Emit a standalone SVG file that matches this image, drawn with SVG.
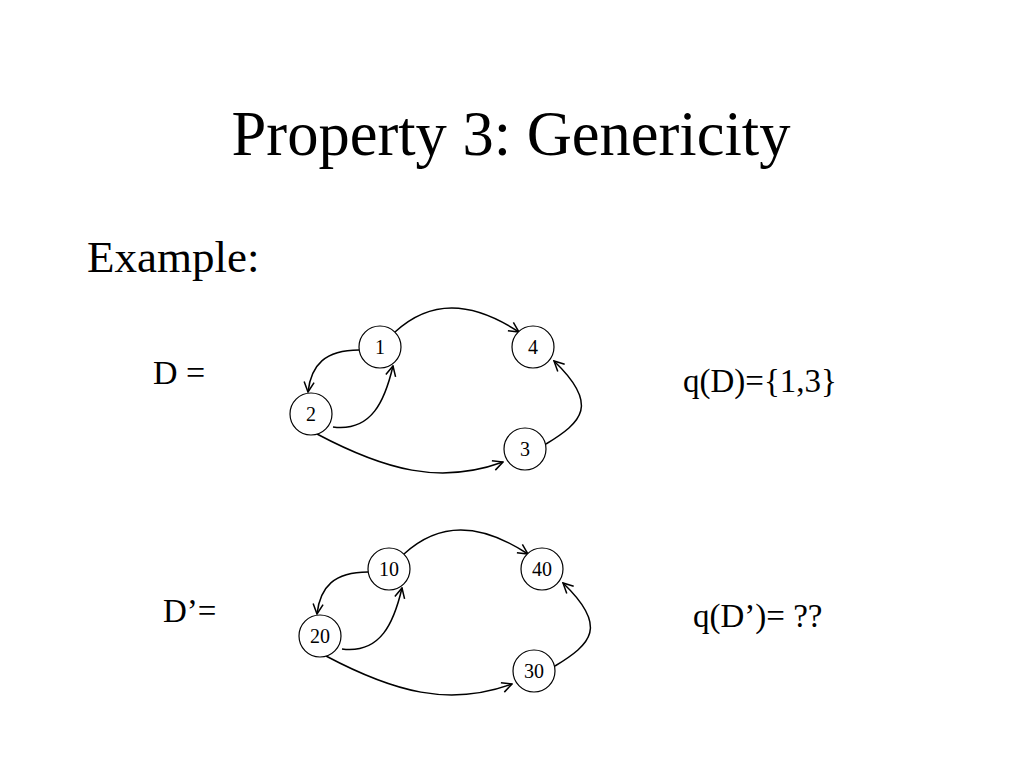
<svg xmlns="http://www.w3.org/2000/svg" width="1024" height="768" viewBox="0 0 1024 768">
<defs>
<style>
.t{font-family:"Liberation Serif","Times New Roman",serif;fill:#000}
.n circle{fill:#fff;stroke:#000;stroke-width:1.2}
.n text{font-family:"Liberation Serif","Times New Roman",serif;font-size:20px;text-anchor:middle;fill:#000}
.e path{fill:none;stroke:#000;stroke-width:1.5;marker-end:url(#arr)}
</style>
<marker id="arr" markerWidth="12" markerHeight="12" viewBox="0 0 12 12" refX="11" refY="6" orient="auto" markerUnits="userSpaceOnUse">
<path d="M1,1 L11,6 L1,11" fill="none" stroke="#000" stroke-width="1.5"/>
</marker>
</defs>
<rect width="1024" height="768" fill="#fff"/>
<text class="t" x="511" y="155" font-size="62.5" text-anchor="middle">Property 3: Genericity</text>
<text class="t" x="87" y="272" font-size="45">Example:</text>
<text class="t" x="153" y="384" font-size="34">D =</text>
<text class="t" x="683" y="392" font-size="33">q(D)={1,3}</text>
<text class="t" x="163" y="622" font-size="33">D’=</text>
<text class="t" x="693" y="627" font-size="33">q(D’)= ??</text>

<g id="connectors-top" class="e">
<path d="M395,332 C430,300 470,300 519,332"/>
<path d="M359,350 C325,350 311,365 308,392"/>
<path d="M333,427 C372,432 385,400 393,366"/>
<path d="M317,434 C385,470 440,485 503,462"/>
<path d="M546,444 C582,422 600,405 554,361"/>
</g>
<g id="node-1" class="n"><circle cx="380" cy="347" r="21"/><text x="380" y="354">1</text></g>
<g id="node-4" class="n"><circle cx="533" cy="347" r="21"/><text x="533" y="354">4</text></g>
<g id="node-2" class="n"><circle cx="311" cy="414" r="21"/><text x="311" y="421">2</text></g>
<g id="node-3" class="n"><circle cx="525" cy="449" r="21"/><text x="525" y="456">3</text></g>

<g transform="translate(9,222)">
<g id="connectors-bottom" class="e">
<path d="M395,332 C430,300 470,300 519,332"/>
<path d="M359,350 C325,350 311,365 308,392"/>
<path d="M333,427 C372,432 385,400 393,366"/>
<path d="M317,434 C385,470 440,485 503,462"/>
<path d="M546,444 C582,422 600,405 554,361"/>
</g>
<g id="node-10" class="n"><circle cx="380" cy="347" r="21"/><text x="380" y="354">10</text></g>
<g id="node-40" class="n"><circle cx="533" cy="347" r="21"/><text x="533" y="354">40</text></g>
<g id="node-20" class="n"><circle cx="311" cy="414" r="21"/><text x="311" y="421">20</text></g>
<g id="node-30" class="n"><circle cx="525" cy="449" r="21"/><text x="525" y="456">30</text></g>
</g>
</svg>
